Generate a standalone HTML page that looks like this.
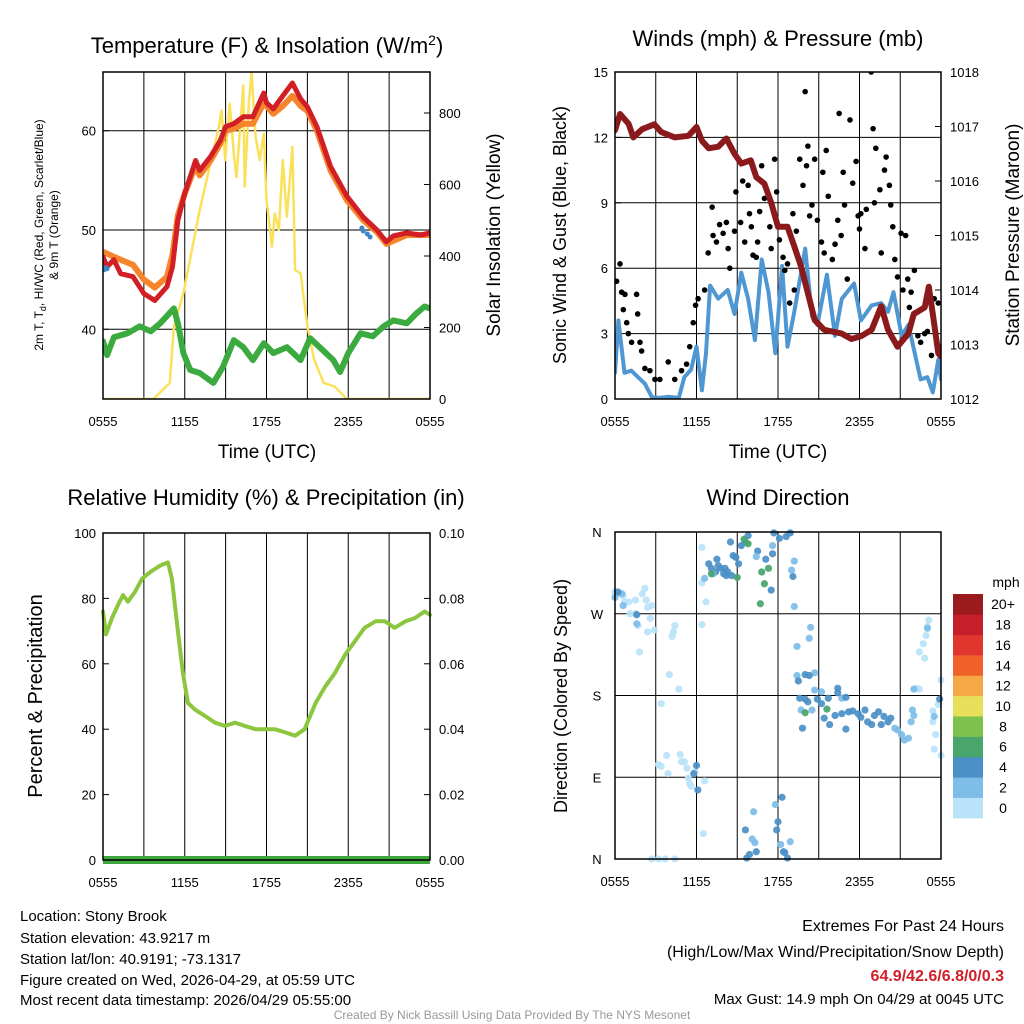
<!DOCTYPE html>
<html><head><meta charset="utf-8">
<style>
html,body{margin:0;padding:0;background:#fff;}
svg{display:block;font-family:"Liberation Sans",Arial,sans-serif;}
</style></head>
<body>
<svg id="chart" width="1024" height="1024" viewBox="0 0 1024 1024" xmlns="http://www.w3.org/2000/svg">
<rect width="1024" height="1024" fill="#fff"/>
<text x="267" y="53" font-size="22" text-anchor="middle">Temperature (F) &amp; Insolation (W/m<tspan dy="-8" font-size="14">2</tspan><tspan dy="8">)</tspan></text>
<text x="778" y="46" font-size="22" text-anchor="middle">Winds (mph) &amp; Pressure (mb)</text>
<text x="266" y="505" font-size="22" text-anchor="middle">Relative Humidity (%) &amp; Precipitation (in)</text>
<text x="778" y="505" font-size="22" text-anchor="middle">Wind Direction</text>

<text transform="translate(43,235) rotate(-90)" font-size="12" text-anchor="middle">2m T, T<tspan font-size="9" dy="3">d</tspan><tspan dy="-3">, HI/WC (Red, Green, Scarlet/Blue)</tspan></text>
<text transform="translate(58,235) rotate(-90)" font-size="12" text-anchor="middle">&amp; 9m T (Orange)</text>
<text transform="translate(500,235) rotate(-90)" font-size="19" text-anchor="middle">Solar Insolation (Yellow)</text>
<text transform="translate(566,235) rotate(-90)" font-size="18" text-anchor="middle">Sonic Wind &amp; Gust (Blue, Black)</text>
<text transform="translate(1019,235) rotate(-90)" font-size="19" text-anchor="middle">Station Pressure (Maroon)</text>
<text transform="translate(42,696) rotate(-90)" font-size="20" text-anchor="middle">Percent &amp; Precipitation</text>
<text transform="translate(567,696) rotate(-90)" font-size="18" text-anchor="middle">Direction (Colored By Speed)</text>
<text x="267" y="458" font-size="19" text-anchor="middle">Time (UTC)</text>
<text x="778" y="458" font-size="19" text-anchor="middle">Time (UTC)</text>

<g font-size="15">
<text x="20" y="921">Location: Stony Brook</text>
<text x="20" y="943">Station elevation: 43.9217 m</text>
<text x="20" y="964">Station lat/lon: 40.9191; -73.1317</text>
<text x="20" y="985">Figure created on Wed, 2026-04-29, at 05:59 UTC</text>
<text x="20" y="1005">Most recent data timestamp: 2026/04/29 05:55:00</text>
</g>
<g font-size="16" text-anchor="end">
<text x="1004" y="931">Extremes For Past 24 Hours</text>
<text x="1004" y="957">(High/Low/Max Wind/Precipitation/Snow Depth)</text>
<text x="1004" y="981" fill="#d0202a" font-weight="bold">64.9/42.6/6.8/0/0.3</text>
<text x="1004" y="1004" font-size="15">Max Gust: 14.9 mph On 04/29 at 0045 UTC</text>
</g>
<text x="512" y="1019" font-size="12" fill="#999" text-anchor="middle">Created By Nick Bassill Using Data Provided By The NYS Mesonet</text>
<g id="layer"></g>
</svg>
<script>
// ---------- data ----------
const xTickLabels = ["0555","1155","1755","2355","0555"];
const tempTicks = [40,50,60];
const solarTicks = [0,200,400,600,800];
const windTicks = [0,3,6,9,12,15];
const pressTicks = [1012,1013,1014,1015,1016,1017,1018];
const rhTicks = [0,20,40,60,80,100];
const precipTicks = ["0.00","0.02","0.04","0.06","0.08","0.10"];
const dirTicks = ["N","E","S","W","N"];
const speedBins = ["0","2","4","6","8","10","12","14","16","18","20+"];

const tempHours = [0,0.3,0.8,1.3,2.2,3.0,3.8,4.7,5.1,5.5,6.0,6.8,7.1,7.9,8.6,9.0,9.6,10.3,11.0,11.8,12.0,12.5,13.2,13.9,14.5,15.0,15.7,16.7,17.9,19.1,20.1,20.8,21.3,22.3,23.3,24];
const tempRed = [47.3,46.3,47.0,45.6,45.3,43.6,42.9,44.3,46.3,51.0,53.7,57.0,56.0,57.4,59.0,60.4,60.7,61.4,61.4,63.8,62.8,62.2,63.5,64.8,63.2,62.4,60.4,56.4,53.4,51.3,50.0,48.8,49.4,49.7,49.5,49.7];
const orangeHours = [0,0.8,1.3,2.2,3.0,3.8,4.7,5.1,5.5,6.0,6.8,7.1,7.9,8.6,9.0,9.6,10.3,11.0,11.8,12.5,13.2,13.9,14.5,15.0,15.7,16.7,17.9,19.1,20.1,20.8,22.3,24];
const tempOrange = [47.8,47.3,47.0,46.5,45.0,44.2,45.3,47.5,51.5,53.7,56.5,55.5,57.0,58.7,60.0,60.2,60.7,60.7,62.8,61.7,62.5,63.5,62.5,62.0,60.0,56.0,53.0,51.0,49.8,48.6,49.5,49.5];
const dewHours = [0,0.3,0.8,1.8,2.7,3.5,4.2,5.2,5.5,5.9,6.4,7.1,8.1,8.8,9.6,10.3,11.0,11.8,12.5,13.5,14.5,15.2,15.9,16.9,17.4,18.0,18.9,19.8,20.6,21.3,22.3,23.0,23.6,24];
const dewPoint = [38.8,37.4,39.2,39.6,40.3,39.8,40.6,42.1,40.6,37.6,35.9,35.6,34.6,36.2,38.9,38.2,36.9,38.6,37.6,38.2,36.9,39.1,38.2,36.9,35.7,37.6,39.6,39.3,40.3,40.9,40.6,41.6,42.3,42.1];
const wcHours = [0.1,0.2,0.3,19.0,19.1,19.4,19.6];
const windChill = [46.0,46.2,46.1,50.2,49.9,49.6,49.3];
const solarHours = [0,3.7,4.9,5.2,5.9,7.1,8.5,8.7,8.97,9.3,9.6,9.8,10.3,10.4,10.7,10.9,11.2,11.5,11.8,12.0,12.4,12.6,12.9,13.2,13.5,13.9,14.1,14.5,15.0,15.5,16.2,17.0,17.9,24];
const solar = [0,0,45,203,296,528,761,807,668,826,686,621,877,594,826,914,733,668,742,556,426,519,473,668,510,705,361,352,203,110,45,35,0,0];

const pressHours = [0,0.37,1.0,1.35,2.0,2.9,3.4,4.4,5.4,6.0,6.4,6.9,7.6,8.2,8.8,9.3,10.0,10.4,11.0,11.5,12.0,12.7,13.2,13.7,14.2,14.7,15.4,16.7,17.4,18.1,18.9,19.6,20.1,20.8,21.6,22.0,22.8,23.1,23.4,23.8,24];
const pressure = [1016.93,1017.23,1017.05,1016.8,1016.95,1017.04,1016.9,1016.8,1016.83,1016.99,1016.74,1016.6,1016.63,1016.78,1016.5,1016.32,1016.38,1016.07,1015.95,1015.6,1015.16,1015.16,1014.8,1014.43,1013.94,1013.45,1013.27,1013.2,1013.1,1013.15,1013.27,1013.7,1013.27,1012.96,1013.2,1013.56,1013.68,1014.06,1013.56,1012.84,1012.78];
const windHours = [0,0.25,0.7,1.2,1.7,2.2,2.7,3.2,3.9,4.7,5.1,5.6,6.0,6.4,6.7,7.0,7.6,8.3,8.8,9.3,9.8,10.3,10.8,11.3,11.8,12.3,12.7,13.2,14.0,14.5,14.9,15.6,16.2,16.7,17.6,18.1,18.9,19.6,20.1,20.5,21.1,21.6,22.0,22.5,23.0,23.4,23.8,24];
const windSpeed = [1.2,3.6,1.2,1.3,1.0,0.7,0.1,0.05,0.1,0.05,1.0,1.35,2.4,0.4,2.1,5.2,4.6,5.0,3.9,5.8,4.6,2.7,6.4,4.9,2.1,6.1,2.4,4.0,6.9,3.8,3.4,5.7,2.9,4.6,5.3,3.6,4.3,4.4,4.0,4.9,2.9,3.4,2.3,0.9,1.0,0.3,1.8,0.9];
const gustHours = [0.12,0.37,0.49,0.73,0.61,0.86,0.98,1.22,1.59,1.67,1.84,1.96,2.2,2.57,2.94,3.3,3.92,4.4,4.9,5.27,5.5,5.76,5.93,6.12,6.6,6.86,7.15,7.22,7.47,7.7,7.96,8.2,8.33,8.45,8.8,8.9,9.25,9.4,9.55,9.8,9.9,10.04,10.16,10.4,10.5,10.65,10.8,11.0,11.4,11.5,11.75,11.9,12.1,12.37,12.5,12.7,12.86,13.1,13.2,13.35,13.6,13.84,14.0,14.1,14.2,14.33,14.5,14.7,14.9,15.2,15.3,15.4,15.55,15.7,16.0,16.2,16.4,16.5,16.65,16.8,16.9,17.1,17.3,17.5,17.75,17.9,18.0,18.1,18.4,18.5,18.86,19.0,19.2,19.1,19.5,19.6,19.84,19.96,20.2,20.3,20.45,20.6,20.8,21.06,21.2,21.4,21.55,21.67,21.8,22.04,22.3,22.5,22.8,23.0,23.3,23.5,23.8];
const gustSpeed = [5.4,6.2,4.9,4.8,4.1,3.5,3.0,2.6,4.8,3.9,2.6,2.2,1.4,1.3,0.9,0.9,1.7,0.9,1.3,1.6,2.4,3.5,4.3,4.6,5.0,6.7,8.8,7.5,7.2,8.0,7.6,8.1,6.9,6.0,7.7,9.5,8.1,10.0,7.2,9.8,8.5,7.9,6.6,6.5,7.2,8.6,10.7,9.2,7.9,6.9,11.0,9.5,7.3,6.5,5.9,6.2,4.4,8.5,5.0,7.7,11.0,9.8,14.1,10.7,11.6,8.4,8.9,11.0,8.2,7.2,10.4,6.7,11.4,9.3,6.4,7.1,8.2,13.1,7.5,10.4,8.9,5.5,12.8,9.9,10.9,8.4,7.8,8.5,6.9,8.7,15.0,12.4,11.5,9.0,9.6,6.7,10.5,11.1,9.8,8.9,7.9,6.4,5.6,7.6,5.0,7.5,5.5,4.2,4.9,5.9,2.9,2.6,3.0,3.1,2.0,4.6,4.4];

const rhHours = [0,0.22,0.66,1.1,1.47,1.83,2.35,2.86,3.45,4.18,4.77,5.06,5.5,5.87,6.24,6.75,7.49,8.22,8.95,9.69,10.4,11.2,11.9,12.6,13.4,14.1,14.8,15.6,16.3,17.0,17.8,18.5,19.2,20.0,20.7,21.4,22.2,22.9,23.6,24];
const rh = [76,69,74,78,81,79,82,86,88,90,91,86,70,57,48,46,44,42,41,42,41,40,40,40,39,38,40,48,53,57,63,67,71,73,73,71,73,74,76,75];
const precipHours = [0,24];
const precip = [0,0];

const dirHours = [0.0,0.2,0.6,0.7,1.0,1.5,2.0,2.2,2.3,2.4,2.7,1.1,1.5,1.7,1.8,2.6,2.4,2.9,4.2,4.3,4.4,4.0,4.7,3.4,6.4,6.4,6.7,6.4,0.0,0.6,1.6,0.5,0.2,1.6,
3.2,3.8,3.9,4.8,4.9,5.1,5.3,5.4,5.5,5.6,5.9,6.6,6.5,2.7,3.2,3.7,4.4,3.4,6.0,6.1,5.8,
6.9,7.1,7.4,7.5,7.6,7.8,8.1,8.2,8.3,8.5,8.6,8.7,8.9,9.1,9.3,9.6,9.8,10.5,11.1,11.6,11.7,12.1,12.6,12.9,11.5,13.1,8.0,
6.6,10.4,11.6,13.0,13.2,13.2,7.2,7.1,9.0,9.5,9.8,10.8,11.3,11.0,10.7,
9.6,9.7,9.9,10.4,12.3,12.0,11.9,12.4,12.7,12.5,10.2,11.8,10.1,10.3,12.2,12.9,
14.4,14.3,13.4,13.4,14.7,14.7,15.2,13.7,14.5,16.7,
14.0,14.3,13.5,13.6,14.0,14.2,14.9,15.2,15.7,16.4,16.4,17.0,15.4,15.8,16.2,16.7,17.2,17.5,17.9,18.4,19.1,19.4,19.8,20.3,18.9,19.6,20.1,13.8,17.0,18.1,18.6,
14.0,15.6,20.6,20.8,21.1,21.3,21.6,21.8,21.9,22.0,
23.1,23.0,22.9,22.7,22.4,22.8,22.2,22.4,23.4,23.4,23.6,23.5,24.0,24.0,23.8,23.0,22.0,23.5,23.9];
const dirDegrees = [294,292,290,283,283,285,292,298,285,277,279,270,270,257,228,265,250,252,245,250,257,203,187,171,343,304,283,258,288,279,259,292,294,269,
104,114,94,115,107,107,100,89,83,80,96,86,28,0,0,0,0,102,103,76,94,
325,320,316,330,323,320,320,312,316,349,312,334,332,325,345,349,356,339,330,336,359,353,355,359,296,311,314,
309,333,345,318,328,278,314,314,310,352,347,316,320,303,281,
32,1,5,8,68,41,32,8,1,7,52,60,22,18,16,19,
255,243,234,202,205,186,184,164,164,177,
203,202,196,177,176,173,176,171,177,188,183,178,155,148,158,160,162,163,160,164,158,162,157,155,148,148,151,144,143,156,151,
161,165,144,142,137,131,133,151,164,158,
263,256,246,237,228,221,188,187,163,151,137,121,114,197,170,254,187,157,176];
const dirSpeeds = [1,1,1,1,1,1,1,1,1,1,1,1,1,1,1,1,1,1,1,1,1,1,1,1,1,1,1,1,3,3,3,3,5,5,
1,1,1,1,1,1,1,1,1,1,1,1,1,1,1,1,1,1,5,5,5,
5,5,5,5,5,5,5,5,5,5,5,5,5,5,5,5,5,5,5,5,5,5,5,5,5,5,5,
3,3,3,3,3,3,3,7,7,7,7,7,7,7,7,
5,5,5,5,5,5,5,5,5,5,3,3,3,3,3,3,
3,3,3,3,3,3,3,3,3,3,
5,5,5,5,5,5,5,5,5,5,5,5,5,5,5,5,5,5,5,5,5,5,5,5,5,5,5,5,5,5,5,
7,7,3,3,3,3,3,3,3,3,
1,1,1,1,1,1,1,1,1,1,1,1,1,1,1,3,3,3,5];
const binColors = ["#b8e3f8","#7dbde8","#4a8fc6","#48a56b","#7ec24e","#e8e05a","#f7a846","#f0622a","#e0362e","#c41f2a","#9b1a1e"];

// ---------- helpers ----------
const NS = "http://www.w3.org/2000/svg";
const layer = document.getElementById("layer");
function mk(tag, attrs, parent){ const e=document.createElementNS(NS,tag); for(const k in attrs) e.setAttribute(k,attrs[k]); (parent||layer).appendChild(e); return e; }
function lin(d0,d1,r0,r1){ return v => r0 + (v-d0)/(d1-d0)*(r1-r0); }

const P1={L:103,R:430,T:72,B:399}, P2={L:615,R:941,T:72,B:399}, P3={L:103,R:430,T:533,B:860}, P4={L:615,R:941,T:532,B:859};

function frame(P, name, hGridYs){
  const g = mk("g",{});
  
  
  for(let i=1;i<8;i++){ const x=P.L+(P.R-P.L)*i/8; mk("line",{x1:x,x2:x,y1:P.T,y2:P.B,stroke:"#000","stroke-width":1},g); }
  hGridYs.forEach(y=>mk("line",{x1:P.L,x2:P.R,y1:y,y2:y,stroke:"#000","stroke-width":1},g));
  xTickLabels.forEach((t,i)=>{ const x=P.L+(P.R-P.L)*i/4;
    const tx=mk("text",{x:x,y:P.B+27,"font-size":13,"text-anchor":"middle"},g); tx.textContent=t;
    
    
  });
  return g;
}
function border(P){ mk("rect",{x:P.L,y:P.T,width:P.R-P.L,height:P.B-P.T,fill:"none",stroke:"#000","stroke-width":1.5}); }
function yLabels(P, vals, scale, side, minorStep, name){
  const g=mk("g",{});
  
  
  vals.forEach(v=>{ const y=scale(typeof v==="string"?parseFloat(v):v);
    const x = side==="L"? P.L-7 : P.R+9;
    const t=mk("text",{x:x,y:y+5,"font-size":13,"text-anchor":side==="L"?"end":"start"},g); t.textContent=v;
    
    
    const ex = side==="L"? P.L : P.R;
    mk("line",{x1:ex,x2:side==="L"?ex+6:ex-6,y1:y,y2:y,stroke:"#000"},g);
  });
}
function path(xs, ys, xf, yf, attrs, name){
  let d=""; xs.forEach((h,i)=>{ d+=(i?"L":"M")+xf(h).toFixed(1)+","+yf(ys[i]).toFixed(1); });
  const p=mk("path",Object.assign({d:d,fill:"none","stroke-linejoin":"round","stroke-linecap":"round"},attrs));
  
  
  return p;
}

// ---------- Panel 1 ----------
const x1 = lin(0,24,P1.L,P1.R);
const yT = lin(60,50,130.7,230);
const yS = lin(0,800,399,113);
frame(P1,"temp-grid",tempTicks.map(yT));
yLabels(P1,tempTicks,yT,"L",0,"temp-y-axis");
yLabels(P1,solarTicks,yS,"R",0,"solar-y-axis");
mk("defs",{}).innerHTML='<clipPath id="c1"><rect x="103" y="72" width="327" height="327"/></clipPath><clipPath id="c2"><rect x="615" y="72" width="326" height="327"/></clipPath>';
const g1=mk("g",{"clip-path":"url(#c1)"});
path(solarHours,solar,x1,yS,{stroke:"#fbe15a","stroke-width":2.5},"solar-line").remove(); 
g1.appendChild(path(solarHours,solar,x1,yS,{stroke:"#fbe15a","stroke-width":2.5},"solar-line"));
g1.appendChild(path(orangeHours,tempOrange,x1,yT,{stroke:"#f5842b","stroke-width":6},"temp-9m-line"));
g1.appendChild(path(tempHours,tempRed,x1,yT,{stroke:"#d21f26","stroke-width":5},"temp-2m-line"));
g1.appendChild(path(dewHours,dewPoint,x1,yT,{stroke:"#3bab3f","stroke-width":6},"dewpoint-line"));
wcHours.forEach((h,i)=>{ const c=mk("circle",{cx:x1(h),cy:yT(windChill[i]),r:2.5,fill:"#3f86c4"},g1);
  
  
});
border(P1);

// ---------- Panel 2 ----------
const x2 = lin(0,24,P2.L,P2.R);
const yW = lin(0,15,399,72);
const yP = lin(1012,1018,399,72);
frame(P2,"wind-grid",[3,6,9,12].map(yW));
yLabels(P2,windTicks,yW,"L",0,"wind-y-axis");
yLabels(P2,pressTicks,yP,"R",0,"pressure-y-axis");
const g2=mk("g",{"clip-path":"url(#c2)"});
g2.appendChild(path(windHours,windSpeed,x2,yW,{stroke:"#4f97d2","stroke-width":4},"sonic-wind-line"));
gustHours.forEach((h,i)=>{ const c=mk("circle",{cx:x2(h),cy:yW(gustSpeed[i]),r:2.8,fill:"#000"},g2);
  
  
});
g2.appendChild(path(pressHours,pressure,x2,yP,{stroke:"#8b1a1c","stroke-width":6},"pressure-line"));
border(P2);

// ---------- Panel 3 ----------
const x3 = lin(0,24,P3.L,P3.R);
const yR = lin(0,100,860,533);
const yPr = lin(0,0.1,860,533);
frame(P3,"humidity-grid",[]);
yLabels(P3,rhTicks,yR,"L",0,"rh-y-axis");
yLabels(P3,precipTicks,yPr,"R",0,"precip-y-axis");
path(rhHours,rh,x3,yR,{stroke:"#8cc63f","stroke-width":4},"rh-line");
path(precipHours,precip,x3,yPr,{stroke:"#3da63d","stroke-width":8,"stroke-linecap":"butt"},"precip-line");
border(P3);

// ---------- Panel 4 ----------
const x4 = lin(0,24,P4.L,P4.R);
const yD = lin(0,360,P4.B,P4.T);
frame(P4,"direction-grid",[90,180,270].map(yD));
dirTicks.forEach((t,i)=>{ const y=yD(i*90);
  const tx=mk("text",{x:P4.L-18,y:y+5,"font-size":13,"text-anchor":"middle"}); tx.textContent=t;
  
  
});
dirHours.forEach((h,i)=>{ const b=Math.min(10,Math.floor(dirSpeeds[i]/2));
  const c=mk("circle",{cx:x4(h),cy:yD(dirDegrees[i]),r:3.6,fill:binColors[b],"fill-opacity":0.92});
  
  
});
border(P4);
// colorbar
const cb=mk("g",{});


const cbTop=594, cbH=224/11;
speedBins.forEach((lab,i)=>{ const y=cbTop+(10-i)*cbH;
  mk("rect",{x:953,y:y,width:30,height:cbH+0.3,fill:binColors[i]},cb);
  const t=mk("text",{x:1003,y:y+cbH/2+5,"font-size":14,"text-anchor":"middle"},cb); t.textContent=lab;
  
  
});
const mph=mk("text",{x:1006,y:587,"font-size":14,"text-anchor":"middle"},cb); mph.textContent="mph";
</script>
</body></html>
